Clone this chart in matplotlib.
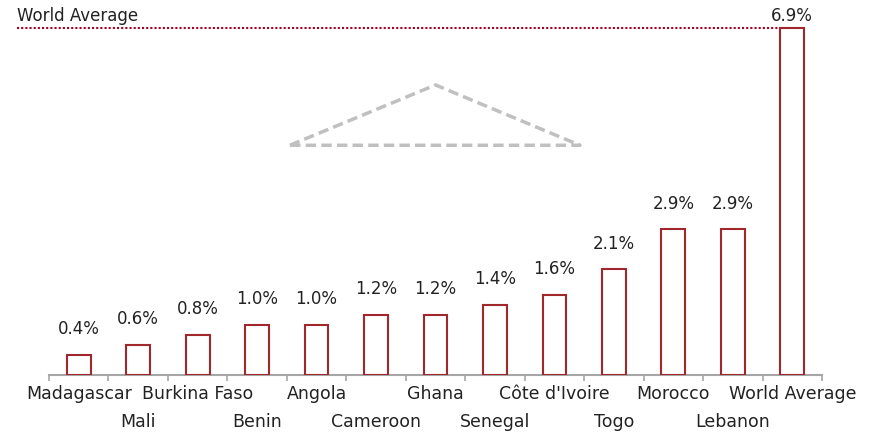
import matplotlib.pyplot as plt
import numpy as np

# Data
countries = ["Madagascar", "Mali", "Burkina Faso", "Benin", "Angola", "Cameroon",
             "Ghana", "Senegal", "Côte d'Ivoire", "Togo", "Morocco", "Lebanon",
             "World Average"]
values = [0.4, 0.6, 0.8, 1.0, 1.0, 1.2, 1.2, 1.4, 1.6, 2.1, 2.9, 2.9, 6.9]
world_avg = 6.9

red = '#A0282D'
plt.rcParams['font.family'] = ['DejaVu Sans']

fig = plt.figure(figsize=(8.8, 4.34), dpi=100)
ax = fig.add_axes([49 / 880, 59 / 434, 773 / 880, 372 / 434])

x = np.arange(len(countries))
ax.bar(x, values, width=0.4, facecolor='white', edgecolor=red, linewidth=1.5, zorder=3)

# value labels above bars (the last one sits tight under the top edge)
for i, (xi, v) in enumerate(zip(x, values)):
    off = 2 if i == len(values) - 1 else 12
    ax.annotate(f"{v:.1f}%", (xi, v), xytext=(0, off), textcoords='offset points',
                ha='center', va='bottom', fontsize=12, color='#222222')

# world average dotted line
ax.plot([-1.03, len(countries) - 1 - 0.2], [world_avg, world_avg], color='#A50021',
        linestyle=(0, (1, 1)), linewidth=1.5, clip_on=False, zorder=2)
ax.text(-1.03, world_avg + 0.06, "World Average", ha='left', va='bottom',
        fontsize=12, color='#222222')

# dashed triangle annotation
tri_x = [3.55, 6.0, 8.43, 3.55]
tri_y = [4.57, 5.77, 4.57, 4.57]
ax.plot(tri_x, tri_y, color='#C0C0C0', linestyle=(0, (3, 1.5)), linewidth=2.5)

ax.set_xlim(-0.5, len(countries) - 0.5)
ax.set_ylim(0, 7.4)

# axis styling
for s in ['top', 'right', 'left']:
    ax.spines[s].set_visible(False)
ax.spines['bottom'].set_color('#A6A6A6')
ax.spines['bottom'].set_linewidth(1.5)
ax.set_yticks([])
ax.set_xticks(np.arange(-0.5, len(countries), 1.0))
ax.set_xticklabels([])
ax.tick_params(axis='x', length=4, width=1.2, color='#A6A6A6')

# staggered category labels
for i, name in enumerate(countries):
    yoff = -19 if i % 2 == 0 else -47
    ax.annotate(name, (i, 0), xytext=(0, yoff), textcoords='offset pixels',
                ha='center', va='center', fontsize=12.5, color='#222222',
                annotation_clip=False)

fig.savefig('out.png', dpi=100)
